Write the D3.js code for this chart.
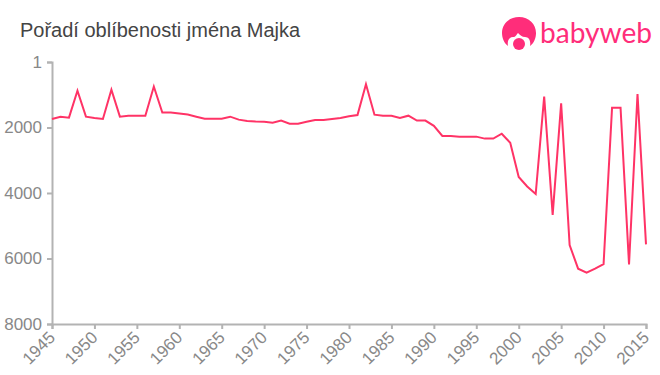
<!DOCTYPE html>
<html>
<head>
<meta charset="utf-8">
<script src="https://cdn.jsdelivr.net/npm/d3@7"></script>
<style>
html, body { margin: 0; padding: 0; background: #fff; }
svg { display: block; }
text { font-family: "Liberation Sans", Arial, sans-serif; }
</style>
</head>
<body>
<svg width="660" height="375"></svg>
<script>
var years = d3.range(1945, 2016);
var ranks = [1740, 1670, 1700, 880, 1670, 1710, 1740, 850, 1670, 1640,
             1640, 1640, 750, 1545, 1545, 1575, 1605, 1670, 1730, 1730,
             1730, 1670, 1760, 1800, 1820, 1825, 1855, 1790, 1885, 1885,
             1825, 1770, 1770, 1740, 1710, 1660, 1620, 680, 1610, 1640,
             1640, 1710, 1640, 1790, 1790, 1950, 2260, 2260, 2280, 2280,
             2280, 2340, 2340, 2190, 2465, 3510, 3800, 4030, 1060, 4670,
             1265, 5590, 6310, 6430, 6310, 6170, 1395, 1395, 6180, 980, 5570];
var yearTicks = d3.range(1945, 2016, 5);
var rankTicks = [1, 2000, 4000, 6000, 8000];
var title = "Pořadí oblíbenosti jména Majka";

var margin = {top: 62, right: 13, bottom: 51, left: 52},
    width = 660 - margin.left - margin.right,
    height = 375 - margin.top - margin.bottom;

var svg = d3.select("svg");

svg.append("text")
   .attr("x", 20)
   .attr("y", 37)
   .attr("font-size", 20)
   .attr("fill", "#444")
   .text(title);

// logo
var logo = svg.append("g").attr("fill", "#ff2d7a");
logo.append("path")
    .attr("d", "M519 17 C509 17 502 24 502 33 C502 38 504 43 508 46 C507 41 509 37 513 37 C516 37 516 35 518 33 C520 35 522 37 525 37 C529 37 531 41 530 46 C534 43 536 38 536 33 C536 24 529 17 519 17 Z");
logo.append("circle").attr("cx", 519).attr("cy", 44).attr("r", 6);
logo.append("text")
    .attr("x", 540)
    .attr("y", 43)
    .attr("font-size", 29)
    .attr("textLength", 112)
    .attr("lengthAdjust", "spacingAndGlyphs")
    .style("font-family", "Lato, 'Open Sans', sans-serif")
    .text("babyweb");

var g = svg.append("g")
   .attr("transform", "translate(" + margin.left + "," + margin.top + ")");

var x = d3.scaleLinear()
          .domain([1945, 2015])
          .range([0, 594]);
var y = d3.scaleLinear()
          .domain([1, 8000])
          .range([0, height]);

var xAxis = g.append("g")
   .attr("transform", "translate(0," + height + ")")
   .call(d3.axisBottom(x).tickValues(yearTicks).tickFormat(d3.format("d")).tickSize(5).tickPadding(3));
xAxis.selectAll("text")
   .attr("transform", "translate(-8,3)rotate(-45)")
   .style("text-anchor", "end")
   .attr("dy", "0.5em");

var yAxis = g.append("g")
   .call(d3.axisLeft(y).tickValues(rankTicks).tickFormat(d3.format("d")).tickSize(5).tickPadding(5));

g.selectAll(".tick text")
   .attr("fill", "#888")
   .attr("font-size", 17)
   .style("font-family", "'Liberation Sans', Arial, sans-serif");
g.selectAll(".domain, .tick line")
   .attr("stroke", "#b3b3b3")
   .attr("stroke-width", 2);

var line = d3.line()
   .x(function(d, i){ return x(years[i]); })
   .y(function(d){ return y(d); });

g.append("path")
   .datum(ranks)
   .attr("fill", "none")
   .attr("stroke", "#ff3366")
   .attr("stroke-width", 2)
   .attr("d", line);
</script>
</body>
</html>
